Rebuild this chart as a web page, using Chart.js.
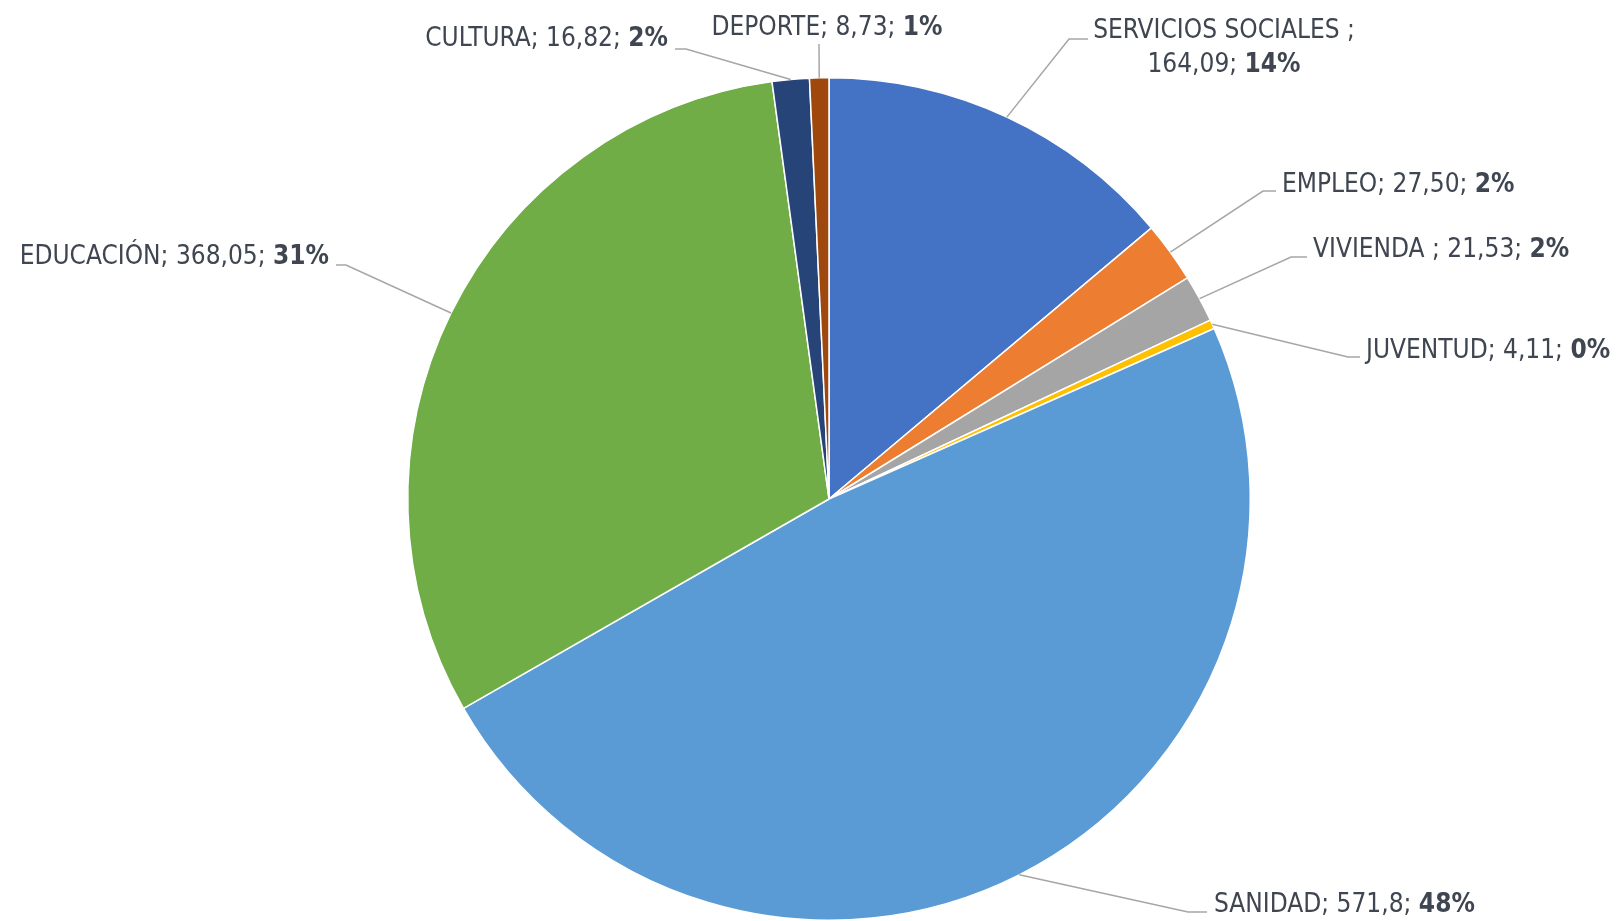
<!DOCTYPE html>
<html>
<head>
<meta charset="utf-8">
<script src="https://cdn.jsdelivr.net/npm/chart.js"></script>
<style>
  body { margin: 0; background: #fff; }
  #wrap { width: 1620px; height: 921px; }
</style>
</head>
<body>
<div id="wrap"><canvas id="pieChart" width="1620" height="921"></canvas></div>
<script>
const categories = ['SERVICIOS SOCIALES ', 'EMPLEO', 'VIVIENDA ', 'JUVENTUD', 'SANIDAD', 'EDUCACIÓN', 'CULTURA', 'DEPORTE'];
const values = [164.09, 27.50, 21.53, 4.11, 571.8, 368.05, 16.82, 8.73];
const valueLabels = ['164,09', '27,50', '21,53', '4,11', '571,8', '368,05', '16,82', '8,73'];
const percentLabels = ['14%', '2%', '2%', '0%', '48%', '31%', '2%', '1%'];
const colors = ['#4472C4', '#ED7D31', '#A5A5A5', '#FFC000', '#5B9BD5', '#70AD47', '#264478', '#9E480E'];

// where each label sits, and the leader line's last two points (elbow ex, end lx/ly)
const labelLayout = [
  { x: 1224, y: 31, align: 'center', twoLines: true, lx: 1088, ly: 39, ex: 1069 },
  { x: 1282, y: 185, align: 'left', lx: 1276, ly: 191, ex: 1263 },
  { x: 1313, y: 250, align: 'left', lx: 1307, ly: 257, ex: 1291 },
  { x: 1366, y: 351, align: 'left', lx: 1360, ly: 357, ex: 1348 },
  { x: 1214, y: 905, align: 'left', lx: 1207, ly: 912, ex: 1188 },
  { x: 329, y: 257, align: 'right', lx: 336, ly: 265, ex: 346 },
  { x: 668, y: 39, align: 'right', lx: 675, ly: 49, ex: 686 },
  { x: 827, y: 28, align: 'center', lx: 819, ly: 44, ex: 819 }
];

const FONT = '"Liberation Sans Narrow", "DejaVu Sans Condensed", sans-serif';
const FONT_SIZE = 26;
const TEXT_COLOR = '#3F4651';

const drawParts = (ctx, parts, x, y, align) => {
  const widths = parts.map(p => {
    ctx.font = `${p.bold ? 'bold ' : ''}${FONT_SIZE}px ${FONT}`;
    return ctx.measureText(p.text).width;
  });
  const total = widths.reduce((a, b) => a + b, 0);
  let cx = align === 'left' ? x : align === 'right' ? x - total : x - total / 2;
  parts.forEach((p, i) => {
    ctx.font = `${p.bold ? 'bold ' : ''}${FONT_SIZE}px ${FONT}`;
    ctx.fillText(p.text, cx, y);
    cx += widths[i];
  });
};

const pieLabels = {
  id: 'pieLabels',
  afterDatasetsDraw(chart) {
    const ctx = chart.ctx;
    const meta = chart.getDatasetMeta(0);
    ctx.save();
    meta.data.forEach((arc, i) => {
      const pos = labelLayout[i];
      const mid = (arc.startAngle + arc.endAngle) / 2;
      const sx = arc.x + Math.cos(mid) * arc.outerRadius;
      const sy = arc.y + Math.sin(mid) * arc.outerRadius;

      ctx.strokeStyle = '#A6A6A6';
      ctx.lineWidth = 1.5;
      ctx.beginPath();
      ctx.moveTo(sx, sy);
      ctx.lineTo(pos.ex, pos.ly);
      ctx.lineTo(pos.lx, pos.ly);
      ctx.stroke();

      ctx.fillStyle = TEXT_COLOR;
      ctx.textBaseline = 'middle';
      if (pos.twoLines) {
        drawParts(ctx, [{ text: categories[i] + ';' }], pos.x, pos.y, 'center');
        drawParts(ctx, [{ text: valueLabels[i] + '; ' }, { text: percentLabels[i], bold: true }], pos.x, pos.y + 34, 'center');
      } else {
        drawParts(ctx, [
          { text: categories[i] + '; ' + valueLabels[i] + '; ' },
          { text: percentLabels[i], bold: true }
        ], pos.x, pos.y, pos.align);
      }
    });
    ctx.restore();
  }
};

new Chart(document.getElementById('pieChart').getContext('2d'), {
  type: 'pie',
  data: {
    labels: categories,
    datasets: [{
      data: values,
      backgroundColor: colors,
      borderColor: '#FFFFFF',
      borderWidth: 1.5
    }]
  },
  options: {
    responsive: false,
    animation: false,
    layout: { padding: { top: 77, bottom: 0, left: 38, right: 0 } },
    plugins: {
      legend: { display: false },
      tooltip: { enabled: false }
    }
  },
  plugins: [pieLabels]
});
</script>
</body>
</html>
